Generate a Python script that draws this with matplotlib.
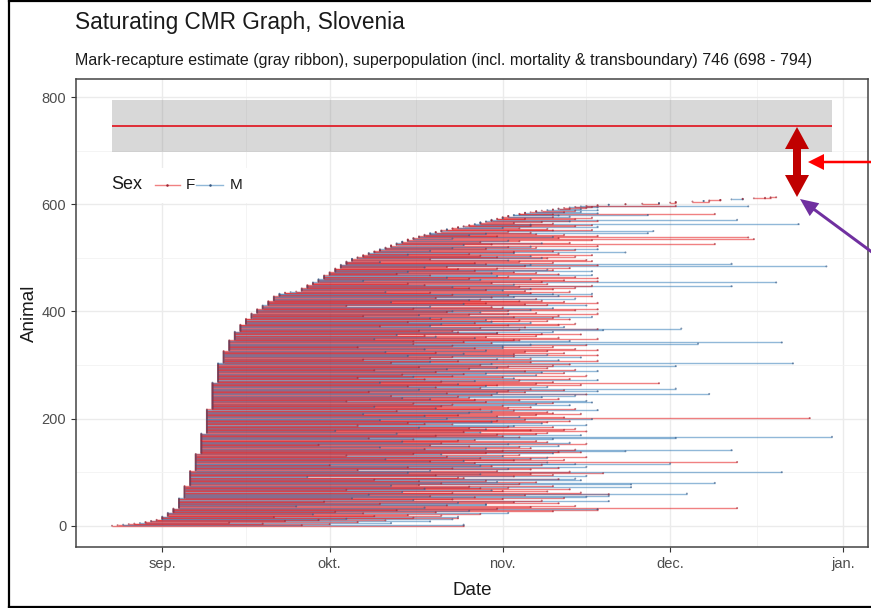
import datetime as dt
import matplotlib
matplotlib.use("Agg")
import matplotlib.pyplot as plt
import matplotlib.dates as mdates
import matplotlib.transforms as mtransforms
from matplotlib.patches import FancyArrow, Rectangle
from matplotlib.lines import Line2D
from matplotlib.ticker import MultipleLocator, FixedLocator

plt.rcParams["font.family"] = ["Liberation Sans", "DejaVu Sans"]

# ---------------- data (days counted from 1 Sep) ----------------
day_zero = dt.date(2019, 9, 1)

# first capture day -> how many animals were first caught that day
first_day = [-9, -8, -7, -6, -5, -4, -3, -2, -1, 0, 1, 2, 3, 4, 5, 6, 7, 8, 9, 10,
             11, 12, 13, 14, 15, 16, 17, 18, 19, 20, 21, 22, 23, 24, 25, 26, 27, 28,
             29, 30, 31, 32, 33, 34, 35, 36, 37, 38, 39, 40, 41, 42, 43, 44, 45, 46,
             47, 48, 49, 50, 51, 52, 53, 54, 55, 56, 57, 58, 59, 60, 61, 62, 63, 64,
             65, 66, 67, 68, 69, 70, 71, 72, 73, 74, 75, 76, 78, 80, 83, 86, 89, 91,
             92, 95, 97, 98, 100, 102, 104, 106, 108, 109]
n_first = [1, 1, 1, 1, 1, 1, 2, 2, 2, 6, 7, 8, 19, 23, 28, 32, 38, 45, 50, 36,
           23, 20, 16, 13, 11, 10, 8, 7, 8, 9, 5, 2, 1, 1, 6, 6, 5, 6,
           7, 6, 7, 7, 6, 5, 3, 4, 4, 3, 4, 3, 4, 4, 3, 4, 3, 3,
           3, 3, 2, 3, 2, 2, 2, 2, 2, 2, 3, 2, 3, 2, 3, 2, 2, 2,
           2, 1, 2, 1, 1, 1, 2, 1, 1, 1, 1, 1, 1, 1, 1, 1, 1, 1,
           1, 1, 1, 1, 1, 1, 1, 1, 1, 1]

# last capture day, one per animal (same order)
last_day = [
    54, 25, 54, 30, 18, 41, 12, 35, 48, 22, 40, 28, 52, 33, 53, 45, 20, 53, 38, 50,
    44, 27, 57, 36, 62, 49, 31, 70, 55, 42, 78, 78, 60, 103, 47, 66, 24, 74, 51, 58,
    58, 39, 71, 53, 63, 29, 80, 68, 45, 52, 61, 34, 72, 56, 76, 48, 80, 65, 37, 80,
    94, 52, 75, 43, 69, 61, 59, 33, 73, 47, 57, 62, 84, 55, 70, 41, 46, 84, 64, 50,
    99, 67, 60, 46, 58, 75, 38, 71, 74, 54, 53, 26, 63, 76, 49, 70, 57, 66, 79, 44,
    111, 73, 60, 48, 35, 66, 62, 52, 71, 44, 76, 59, 57, 30, 68, 74, 91, 56, 69, 103,
    48, 54, 63, 72, 40, 66, 57, 69, 76, 51, 61, 33, 64, 50, 45, 70, 58, 75, 71, 83,
    61, 102, 74, 47, 58, 66, 39, 64, 55, 71, 48, 28, 62, 76, 50, 73, 69, 43, 67, 53,
    56, 45, 70, 37, 92, 64, 120, 61, 49, 75, 60, 67, 42, 69, 57, 54, 76, 31, 66, 72,
    58, 74, 55, 46, 70, 62, 63, 35, 76, 52, 47, 68, 44, 69, 59, 73, 60, 39, 65, 77,
    51, 116, 72, 64, 60, 47, 53, 67, 36, 75, 70, 55, 69, 59, 42, 63, 78, 57, 74, 49,
    62, 66, 38, 50, 61, 73, 52, 67, 45, 70, 77, 58, 33, 76, 64, 56, 48, 71, 43, 55,
    68, 53, 41, 74, 59, 76, 98, 51, 60, 65, 37, 78, 62, 72, 46, 66, 92, 57, 49, 69,
    44, 58, 60, 75, 53, 67, 89, 39, 70, 50, 56, 64, 78, 47, 73, 63, 35, 61, 45, 52,
    76, 67, 43, 54, 58, 72, 68, 49, 65, 78, 38, 74, 51, 55, 69, 60, 46, 62, 92, 70,
    57, 73, 59, 113, 41, 66, 48, 53, 78, 71, 36, 60, 66, 48, 75, 52, 63, 44, 78, 69,
    63, 54, 72, 49, 40, 65, 69, 58, 78, 47, 74, 56, 61, 35, 70, 61, 52, 76, 66, 45,
    96, 59, 111, 54, 45, 73, 64, 63, 38, 78, 56, 71, 58, 49, 67, 47, 42, 75, 68, 60,
    60, 53, 70, 52, 46, 79, 64, 78, 93, 57, 65, 72, 39, 48, 62, 71, 50, 74, 56, 66,
    44, 59, 69, 64, 58, 73, 50, 48, 70, 63, 77, 36, 71, 46, 55, 62, 78, 67, 57, 51,
    52, 62, 74, 66, 78, 45, 70, 61, 59, 48, 33, 76, 69, 65, 54, 58, 78, 41, 72, 64,
    68, 55, 57, 67, 74, 49, 59, 63, 77, 71, 62, 52, 70, 77, 66, 48, 40, 73, 65, 61,
    58, 70, 66, 55, 74, 52, 64, 102, 77, 47, 63, 69, 44, 59, 110, 68, 78, 36, 72, 57,
    66, 55, 78, 51, 74, 62, 60, 48, 77, 71, 42, 59, 67, 63, 44, 77, 56, 70, 69, 53,
    60, 73, 47, 51, 119, 65, 78, 66, 58, 102, 56, 70, 39, 64, 77, 62, 76, 48, 34, 69,
    68, 60, 74, 66, 57, 77, 44, 55, 71, 63, 83, 63, 70, 48, 39, 74, 78, 58, 52, 67,
    62, 66, 78, 41, 54, 59, 99, 68, 73, 57, 43, 64, 62, 77, 44, 106, 52, 71, 105, 70,
    60, 78, 55, 72, 67, 58, 87, 66, 49, 62, 88, 70, 77, 51, 69, 64, 61, 53, 78, 74,
    66, 77, 66, 114, 70, 63, 57, 68, 73, 78, 59, 103, 74, 65, 61, 77, 70, 73, 62, 71,
    87, 70, 99, 78, 65, 72, 75, 67, 74, 78, 70, 75, 73, 76, 78, 77, 105, 92, 78, 80,
    83, 89, 89, 92, 92, 98, 97, 100, 100, 104, 104, 108, 109, 110,
]

sex = ("FFMFFMFFMFFFMMFFFMFF" "FMFFMFFFMFFMFFMFMFFM" "MFFMFFMFMFFMFFMFMFMF"
       "MFFMFFMFFMFFMFFMFMFF" "MFMFFMFFMFFMFMFFMFFM" "MFFMFFMFFFMFMFFMMFMF"
       "FMFFMFFMFFMFFMFMFFFM" "FMFFMFMFFMFFMFFMFMFF" "FFMFMFMFFMFFMFMFFMFF"
       "MFFMFFMFMFFMFFMFFMFM" "MFFMFMFFMFFMFMFFMFFM" "FFMFFMFMFFMFFMFFMFMF"
       "MFFMFFMFMFFMFFMFMFFM" "FMFFMFFMFFMFMFFMFFMF" "FMFFMFMFFMFFMFFMFFMF"
       "FFMMFFMFFMFMFFMFFMFM" "FMFFMFFMFMFFMFFMFFMF" "MFMFFMFFMFMFFMFFMFFM"
       "FFMFFMFFMFFMFMFFMFFM" "FMFFMFFMFFMFFMFMFFMF" "MFFMFFMFFMFMFFMFFMFF"
       "FMFFMFFMFMFFMMFFMFFM" "FFMFFMFMFFMFFFMFFMFM" "MFFMFFMFMFFMFFMMFFMF"
       "FFMFMFFMFMFFMFFMFFMF" "MFFMFFMFFMMFFMFFMFMF" "FMFFMFFMFFMFMFFFMFFM"
       "FFMFFMMFFFMFFMFFMFMF" "FFMMFFMFMFFMFFMFFMFM" "MFFMFFMFFMFMFFMFMFFM"
       "FFMFFFMFFMFFFF")

estimate, ci_low, ci_high = 746, 698, 794
month_ticks = [dt.date(2019, 9, 1), dt.date(2019, 10, 1), dt.date(2019, 11, 1),
               dt.date(2019, 12, 1), dt.date(2020, 1, 1)]
month_labels = ["sep.", "okt.", "nov.", "dec.", "jan."]

line_col = {"F": "#E41A1C", "M": "#377EB8"}
dot_col = {"F": "#9A2432", "M": "#35557F"}

# ---------------- build ----------------
W, H = 871, 608
fig = plt.figure(figsize=(W / 100, H / 100), dpi=100)
fig.subplots_adjust(left=76 / W, right=868 / W, bottom=1 - 547 / H, top=1 - 79 / H)
ax = fig.add_subplot(111)

base = mdates.date2num(day_zero)
starts = []
for d, n in zip(first_day, n_first):
    starts += [base + d] * n
ends = [base + d for d in last_day]
animal = list(range(len(starts)))

ax.hlines(animal, starts, ends, colors=[line_col[s] for s in sex],
          lw=1.0, alpha=0.55, zorder=2)
ax.scatter(starts + ends, animal + animal, s=2.0, lw=0,
           c=[dot_col[s] for s in sex] * 2, alpha=0.6, zorder=3)

x0, x1 = min(starts), max(ends)
ax.fill_between([x0, x1], ci_low, ci_high, color="#7F7F7F", alpha=0.3, lw=0, zorder=1.5)
ax.hlines(estimate, x0, x1, color="#E0202A", lw=1.3, zorder=2)

pad = 0.05 * (x1 - x0)
ax.set_xlim(x0 - pad, x1 + pad)
ax.set_ylim(-0.05 * ci_high, ci_high * 1.05)

# axes / grid, theme_bw style
ticks = [mdates.date2num(t) for t in month_ticks]
ax.xaxis.set_major_locator(FixedLocator(ticks))
ax.set_xticklabels(month_labels)
mids = [(a + b) / 2 for a, b in zip([ticks[0] - 31] + ticks[:-1], ticks)]
ax.xaxis.set_minor_locator(FixedLocator(mids))
ax.yaxis.set_major_locator(MultipleLocator(200))
ax.yaxis.set_minor_locator(MultipleLocator(100))
ax.grid(True, which="major", color="#EBEBEB", lw=1.0, zorder=0)
ax.grid(True, which="minor", color="#F3F3F3", lw=0.6, zorder=0)
ax.set_axisbelow(True)
ax.tick_params(which="major", length=3.5, width=0.8, color="#333333",
               labelcolor="#4D4D4D", labelsize=10.5)
ax.tick_params(which="minor", length=0)
for sp in ax.spines.values():
    sp.set_color("#444444")
    sp.set_linewidth(1.1)

ax.set_xlabel("Date", fontsize=13.5, labelpad=8, color="#1A1A1A")
ax.set_ylabel("Animal", fontsize=13.5, labelpad=3, color="#1A1A1A")

# legend (inside, top left)
ax.add_patch(Rectangle((0.036, 0.735), 0.19, 0.075, transform=ax.transAxes,
                       facecolor="white", edgecolor="none", zorder=4))
ly = 0.774
ax.text(0.044, ly, "Sex", transform=ax.transAxes, va="center", fontsize=13,
        color="#1A1A1A", zorder=5)
for xa, xb, xt, s in [(0.100, 0.131, 0.139, "F"), (0.152, 0.186, 0.194, "M")]:
    ax.add_line(Line2D([xa, xb], [ly, ly], transform=ax.transAxes,
                       color=line_col[s], alpha=0.55, lw=1.0, zorder=5))
    ax.add_line(Line2D([(xa + xb) / 2], [ly], transform=ax.transAxes, marker="o",
                       ms=1.8, mew=0, color=dot_col[s], zorder=5))
    ax.text(xt, ly, s, transform=ax.transAxes, va="center", fontsize=11,
            color="#1A1A1A", zorder=5)

# titles
fig.text(75 / W, 1 - 29 / H, "Saturating CMR Graph, Slovenia", fontsize=16.3,
         color="#1A1A1A", va="baseline")
fig.text(75 / W, 1 - 65 / H,
         "Mark-recapture estimate (gray ribbon), superpopulation "
         "(incl. mortality & transboundary) 746 (698 - 794)",
         fontsize=11.5, color="#1A1A1A", va="baseline")

# hand-drawn annotations, in pixel coordinates from the top-left corner
px = mtransforms.Affine2D().scale(1 / W, -1 / H).translate(0, 1) + fig.transFigure
for dy in (-35, 35):
    fig.add_artist(FancyArrow(797, 162, 0, dy, width=8, head_width=24, head_length=22,
                              length_includes_head=True, color="#C00000",
                              transform=px, lw=0))
fig.add_artist(FancyArrow(880, 162, -72, 0, width=2.5, head_width=16, head_length=16,
                          length_includes_head=True, color="#FF0000", transform=px, lw=0))
fig.add_artist(FancyArrow(884, 261, -84, -62, width=3, head_width=16, head_length=18,
                          length_includes_head=True, color="#7030A0", transform=px, lw=0))

# screenshot frame
for xs, ys in [([8.5, 8.5], [1, 606.5]), ([8.5, 880], [1, 1]), ([8.5, 880], [606.5, 606.5])]:
    fig.add_artist(Line2D(xs, ys, transform=px, color="black", lw=1.6))

fig.savefig("out.png", dpi=100)
